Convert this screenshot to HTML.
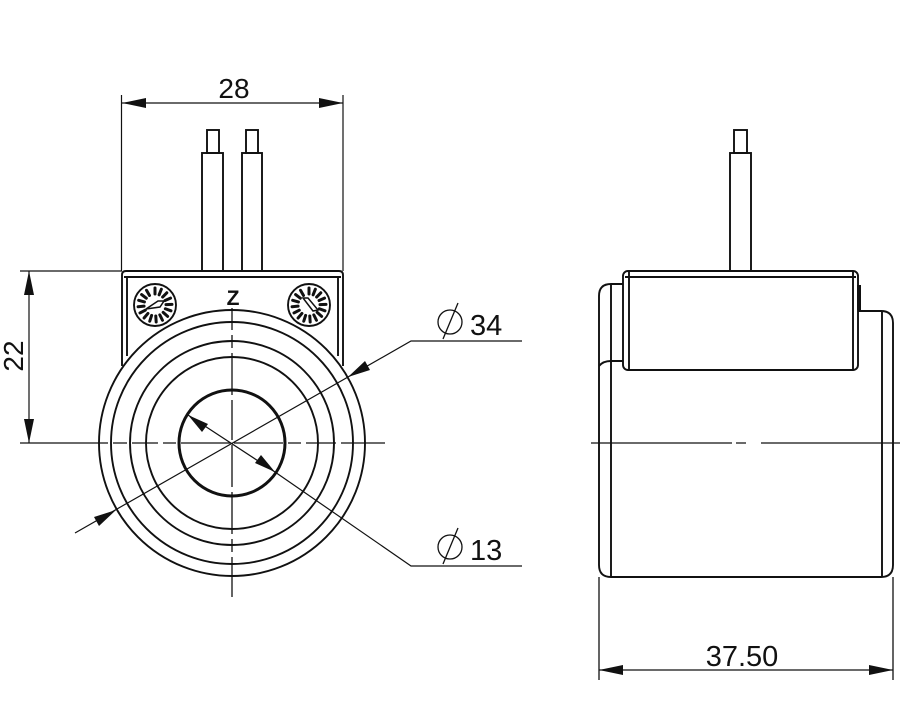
<!DOCTYPE html>
<html><head><meta charset="utf-8"><style>html,body{margin:0;padding:0;background:#fff}svg{display:block}</style></head>
<body>
<svg width="900" height="711" viewBox="0 0 900 711" xmlns="http://www.w3.org/2000/svg" font-family="Liberation Sans, sans-serif">
<defs>
<g id="dialticks" stroke="#111" stroke-width="3" stroke-linecap="round">
<line x1="0" y1="-17" x2="0" y2="-11" transform="rotate(0)"/>
<line x1="0" y1="-17" x2="0" y2="-11" transform="rotate(22)"/>
<line x1="0" y1="-17" x2="0" y2="-11" transform="rotate(44)"/>
<line x1="0" y1="-17" x2="0" y2="-11" transform="rotate(66)"/>
<line x1="0" y1="-17" x2="0" y2="-11" transform="rotate(88)"/>
<line x1="0" y1="-17" x2="0" y2="-11" transform="rotate(110)"/>
<line x1="0" y1="-17" x2="0" y2="-11" transform="rotate(132)"/>
<line x1="0" y1="-17" x2="0" y2="-11" transform="rotate(154)"/>
<line x1="0" y1="-17" x2="0" y2="-11" transform="rotate(176)"/>
<line x1="0" y1="-17" x2="0" y2="-11" transform="rotate(198)"/>
<line x1="0" y1="-17" x2="0" y2="-11" transform="rotate(220)"/>
<line x1="0" y1="-17" x2="0" y2="-11" transform="rotate(242)"/>
<line x1="0" y1="-17" x2="0" y2="-11" transform="rotate(264)"/>
<line x1="0" y1="-17" x2="0" y2="-11" transform="rotate(286)"/>
<line x1="0" y1="-17" x2="0" y2="-11" transform="rotate(308)"/>
<line x1="0" y1="-17" x2="0" y2="-11" transform="rotate(330)"/>
</g>
</defs>
<g fill="none" stroke="#111" stroke-width="1.9">
<rect x="207" y="130" width="12" height="23"/>
<rect x="202" y="153" width="21" height="118"/>
<rect x="246" y="130" width="12" height="23"/>
<rect x="242" y="153" width="20" height="118"/>
<path d="M122,366 L122,275 Q122,271 126,271 L339,271 Q343,271 343,275 L343,366"/>
<line x1="127" y1="277" x2="127" y2="356"/>
<line x1="338" y1="277" x2="338" y2="356"/>
<line x1="124" y1="277" x2="341" y2="277"/>
<circle cx="232" cy="443" r="133" fill="#fff"/>
<circle cx="232" cy="443" r="121"/>
<circle cx="232" cy="443" r="102"/>
<circle cx="232" cy="443" r="86"/>
<circle cx="232" cy="443" r="53" stroke-width="3"/>
<circle cx="155" cy="305" r="21"/>
<circle cx="309" cy="305" r="21"/>
</g>
<use href="#dialticks" transform="translate(155,305)"/>
<use href="#dialticks" transform="translate(309,305)"/>
<path d="M146,309 L158,301 L164,301 L160,307 Z" fill="#fff" stroke="#111" stroke-width="1.5"/>
<path d="M303,298 L308,298 L318,310 L313,311 Z" fill="#fff" stroke="#111" stroke-width="1.5"/>
<text x="233" y="305" font-size="21" font-weight="bold" text-anchor="middle" fill="#111">Z</text>
<g stroke="#111" stroke-width="1.3" fill="none">
<path d="M20,443 H108 M113,443 H127 M132,443 H158 M163,443 H176 M181,443 H230 M234,443 H283 M288,443 H301 M306,443 H336 M341,443 H385"/>
<path d="M232,308 V330 M232,335 V348 M232,353 V395 M232,400 V440 M232,445 V487 M232,492 V534 M232,539 V552 M232,557 V597"/>
</g>
<g stroke="#111" stroke-width="1.2" fill="none">
<line x1="121.5" y1="95" x2="121.5" y2="271"/>
<line x1="343" y1="95" x2="343" y2="271"/>
<line x1="122" y1="103" x2="343" y2="103"/>
<line x1="20" y1="271" x2="122" y2="271"/>
<line x1="29" y1="271" x2="29" y2="443"/>
<polyline points="75,533 411,341 522,341"/>
<polyline points="188,415 275,472 411,566 522,566"/>
</g>
<g fill="#111">
<polygon points="122,103 146,98 146,108"/>
<polygon points="343,103 319,98 319,108"/>
<polygon points="29,271 24,295 34,295"/>
<polygon points="29,443 24,419 34,419"/>
<polygon points="116,510 94,517 99,526"/>
<polygon points="348,377 370,370 365,361"/>
<polygon points="188,415 202,432 208,424"/>
<polygon points="275,472 261,455 255,463"/>
<polygon points="599,670 623,665 623,675"/>
<polygon points="893,670 869,665 869,675"/>
</g>
<text x="234" y="98" font-size="28" text-anchor="middle" fill="#111">28</text>
<text transform="translate(23,356) rotate(-90)" font-size="28" text-anchor="middle" fill="#111">22</text>
<g font-size="29" fill="#111">
<text x="470" y="335">34</text>
<text x="470" y="560">13</text>
</g>
<g fill="none" stroke="#111" stroke-width="1.3">
<circle cx="450" cy="322" r="12"/><line x1="443" y1="339" x2="458" y2="303"/>
<circle cx="450" cy="547" r="12"/><line x1="443" y1="564" x2="458" y2="528"/>
</g>
<g fill="none" stroke="#111" stroke-width="1.9">
<rect x="734" y="130" width="13" height="23"/>
<rect x="730" y="153" width="21" height="118"/>
<path d="M623,284 L611,284 Q599,284 599,296 L599,565 Q599,577 611,577 L881,577 Q893,577 893,565 L893,323 Q893,311 881,311 L858,311"/>
<line x1="611" y1="284" x2="611" y2="577"/>
<line x1="882" y1="311" x2="882" y2="577"/>
<path d="M599,366 Q603,361 611,361 L623,361"/>
<rect x="623" y="271" width="235" height="99" rx="5" fill="#fff"/>
<line x1="629" y1="271" x2="629" y2="370"/>
<line x1="853" y1="271" x2="853" y2="370"/>
<line x1="625" y1="277" x2="856" y2="277"/>
</g>
<rect x="857" y="285" width="4" height="25" fill="#111"/>
<g stroke="#111" stroke-width="1.3" fill="none">
<path d="M591,443 H732 M736,443 H746 M761,443 H900"/>
<line x1="599" y1="577" x2="599" y2="680"/>
<line x1="893" y1="577" x2="893" y2="680"/>
<line x1="599" y1="670" x2="893" y2="670"/>
</g>
<text x="742" y="666" font-size="29" text-anchor="middle" fill="#111">37.50</text>
</svg>
</body></html>
